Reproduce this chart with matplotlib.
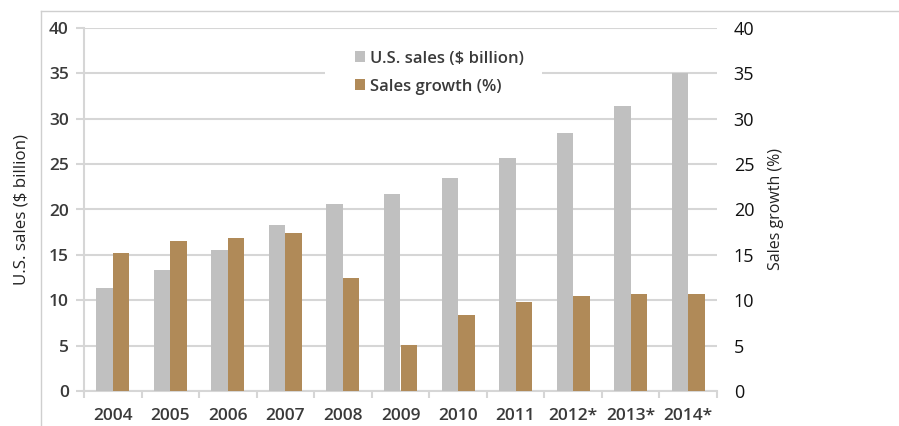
import numpy as np
import matplotlib.pyplot as plt
from matplotlib.lines import Line2D
from matplotlib.patches import Rectangle

years = ['2004', '2005', '2006', '2007', '2008', '2009', '2010', '2011',
         '2012*', '2013*', '2014*']
us_sales = [11.4, 13.3, 15.5, 18.3, 20.6, 21.7, 23.5, 25.7, 28.4, 31.4, 35.0]
sales_growth = [15.2, 16.5, 16.9, 17.4, 12.4, 5.1, 8.4, 9.8, 10.5, 10.65, 10.65]
y_ticks = [0, 5, 10, 15, 20, 25, 30, 35, 40]

gray = '#c0c0c0'
gold = '#b08a58'
grid_c = '#d6d6d6'
txt = '#3a3a3a'

plt.rcParams['font.family'] = ['Open Sans', 'DejaVu Sans']

fig = plt.figure(figsize=(8.99, 4.26), dpi=100)
ax = fig.add_axes([84 / 899, 1 - 391 / 426, 633 / 899, 363 / 426])

x = np.arange(len(years))
w = 0.287
ax.bar(x - w / 2, us_sales, w, color=gray, label='U.S. sales ($ billion)', zorder=3)
ax.bar(x + w / 2, sales_growth, w, color=gold, label='Sales growth (%)', zorder=3)

ax.set_xlim(-0.5, len(years) - 0.5)
ax.set_ylim(0, 40)
ax.set_yticks(y_ticks)
ax.set_yticklabels([str(t) for t in y_ticks], fontsize=12.5, fontweight='semibold', color=txt)
ax.set_xticks(x)
ax.set_xticklabels(years, fontsize=12.5, fontweight='semibold', color=txt)
ax.set_xticks(np.arange(-0.5, len(years), 1.0), minor=True)
ax.tick_params(axis='x', which='major', length=0, pad=12)
ax.tick_params(axis='x', which='minor', length=5, color=grid_c, width=1.5)
ax.tick_params(axis='y', length=6, color=grid_c, width=1.5, pad=5)
ax.yaxis.grid(True, color=grid_c, linewidth=1.5, zorder=0)
ax.set_axisbelow(True)
for s in ['top', 'right']:
    ax.spines[s].set_visible(False)
for s in ['left', 'bottom']:
    ax.spines[s].set_color(grid_c)
    ax.spines[s].set_linewidth(1.5)
ax.set_ylabel('U.S. sales ($ billion)', fontsize=12.2, color='#222222', labelpad=14)

# white legend background that cuts the 35 gridline
ax.add_patch(Rectangle((0.381, 0.85), 0.3425, 0.05, transform=ax.transAxes,
                       facecolor='white', edgecolor='none', zorder=1))

ax2 = ax.twinx()
ax2.set_ylim(0, 40)
ax2.set_yticks(y_ticks)
ax2.set_yticklabels([str(t) for t in y_ticks], fontsize=13, color='#111111')
ax2.tick_params(axis='y', length=0, pad=12)
for s in ['top', 'right', 'left', 'bottom']:
    ax2.spines[s].set_visible(False)
ax2.set_ylabel('Sales growth (%)', fontsize=11.5, color='#222222', labelpad=10)

leg = ax.legend(loc='upper left', bbox_to_anchor=(0.405, 0.979), frameon=False,
                handlelength=0.6, handleheight=0.6, handletextpad=0.3,
                labelspacing=0.72, borderpad=0.4,
                prop={'size': 12, 'weight': 'semibold'})
for t in leg.get_texts():
    t.set_color(txt)

# screenshot frame lines
fig.add_artist(Line2D([41 / 899, 1], [1 - 11 / 426, 1 - 11 / 426], color='#cfcfcf', lw=1))
fig.add_artist(Line2D([41 / 899, 41 / 899], [0, 1 - 11 / 426], color='#cfcfcf', lw=1))

fig.savefig('out.png', dpi=100)
